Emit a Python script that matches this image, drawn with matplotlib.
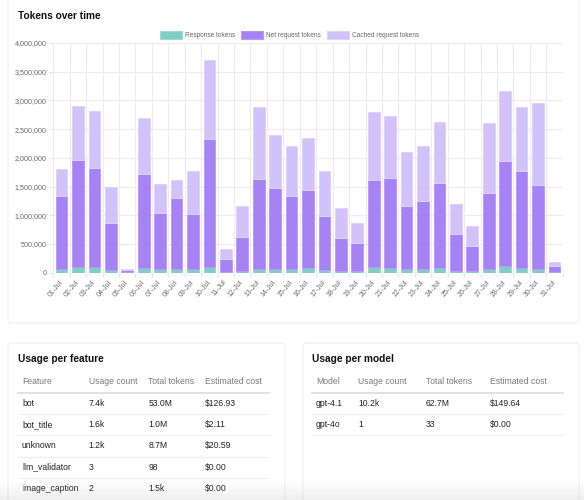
import numpy as np
import matplotlib
matplotlib.use("Agg")
import matplotlib.pyplot as plt
from matplotlib.patches import Rectangle, FancyBboxPatch
from matplotlib.lines import Line2D
from matplotlib.ticker import MultipleLocator, FuncFormatter

plt.rcParams['font.family'] = ['Liberation Sans', 'DejaVu Sans']

# chart data (thousands of tokens per day)
days = ["%02d-Jul" % d for d in range(1, 32)]
response_k = [65, 94, 95, 45, 10, 80, 60, 65, 65, 100, 12, 30, 70, 70, 70, 80,
              50, 30, 30, 95, 85, 65, 65, 85, 30, 30, 70, 120, 90, 70, 5]
net_k = [1275, 1876, 1735, 825, 30, 1640, 980, 1235, 965, 2230, 228, 590, 1560, 1400, 1270, 1360,
         930, 580, 490, 1525, 1565, 1095, 1185, 1485, 650, 440, 1320, 1830, 1680, 1460, 115]
cached_k = [470, 940, 990, 630, 25, 980, 510, 320, 740, 1380, 180, 550, 1260, 930, 860, 900,
            790, 520, 350, 1180, 1080, 940, 960, 1060, 510, 350, 1220, 1220, 1120, 1430, 70]

# tables
feat_header = ["Feature", "Usage count", "Total tokens", "Estimated cost"]
feat_rows = [["bot", "7.4k", "53.0M", "$126.93"],
             ["bot_title", "1.6k", "1.0M", "$2.11"],
             ["unknown", "1.2k", "8.7M", "$20.59"],
             ["llm_validator", "3", "98", "$0.00"],
             ["image_caption", "2", "1.5k", "$0.00"]]
model_header = ["Model", "Usage count", "Total tokens", "Estimated cost"]
model_rows = [["gpt-4.1", "10.2k", "62.7M", "$149.64"],
              ["gpt-4o", "1", "33", "$0.00"]]

W, H = 584, 500
fig = plt.figure(figsize=(W / 100, H / 100), dpi=100)
fig.patch.set_facecolor("white")

def fx(x):
    return x / W

def fy(y):
    return 1 - y / H

def card(x0, y0, x1, y1):
    fig.patches.append(FancyBboxPatch((fx(x0), fy(y1)), fx(x1) - fx(x0), fy(y0) - fy(y1),
                                      boxstyle="round,pad=0,rounding_size=0.006",
                                      transform=fig.transFigure, facecolor="white",
                                      edgecolor="#f0f0f0", linewidth=0.8, zorder=-2))

card(8, -10, 579, 323)
card(8, 343, 285, 520)
card(303, 343, 579, 520)

# title + legend
fig.text(fx(17.5), fy(16), "Tokens over time", fontsize=7.3, fontweight="bold",
         color="#111111", va="center", ha="left")

c_resp, c_net, c_cache = "#7fcdc4", "#a583f5", "#d1c3fa"
e_resp, e_net, e_cache = "#9fdad3", "#b79cf7", "#ddd2fb"
legend_items = [(160, 185, c_resp, e_resp, "Response tokens"),
                (241, 266, c_net, e_net, "Net request tokens"),
                (327, 352, c_cache, e_cache, "Cached request tokens")]
for bx, tx, fc, ec, lab in legend_items:
    fig.patches.append(Rectangle((fx(bx), fy(38.5)), fx(22), 7 / H, transform=fig.transFigure,
                                 facecolor=fc, edgecolor=ec, linewidth=0.8))
    fig.text(fx(tx), fy(35), lab, fontsize=4.7, color="#666666", va="center", ha="left")

# bar chart
ax = fig.add_axes([fx(53.3), fy(272.7), fx(509.4), 229.7 / H], zorder=1)
x = np.arange(len(days))
resp = np.array(response_k) * 1000
net = np.array(net_k) * 1000
cached = np.array(cached_k) * 1000
bw = 0.71
ax.bar(x, resp, bw, color=c_resp, edgecolor=e_resp, linewidth=0.7, zorder=3)
ax.bar(x, net, bw, bottom=resp, color=c_net, edgecolor=e_net, linewidth=0.7, zorder=3)
ax.bar(x, cached, bw, bottom=resp + net, color=c_cache, edgecolor=e_cache, linewidth=0.7, zorder=3)

ax.set_xlim(-0.5, len(days) - 0.5)
ax.set_ylim(0, 4000000)
ax.yaxis.set_major_locator(MultipleLocator(500000))
ax.yaxis.set_major_formatter(FuncFormatter(lambda v, p: "{:,.0f}".format(v)))
ax.set_xticks(x)
ax.set_xticklabels(days, rotation=50, ha="right", va="center", rotation_mode="anchor")
ax.set_xticks(np.arange(-0.5, len(days)), minor=True)
ax.tick_params(axis="x", which="major", length=0, pad=6, labelsize=5, labelcolor="#666666")
ax.tick_params(axis="x", which="minor", length=3, color="#e6e6e6", width=0.8)
ax.tick_params(axis="y", length=3, color="#e6e6e6", width=0.8, pad=2, labelsize=5.1, labelcolor="#666666")
ax.grid(which="minor", axis="x", color="#ececec", linewidth=0.8, zorder=0)
ax.grid(which="major", axis="y", color="#ececec", linewidth=0.8, zorder=0)
for s in ax.spines.values():
    s.set_visible(False)
ax.set_facecolor("none")

# tables
def table(x0, x1, title, colx, header, rows):
    fig.text(fx(x0), fy(358.5), title, fontsize=7.3, fontweight="bold", color="#111111",
             va="center", ha="left")
    for cx, h in zip(colx, header):
        fig.text(fx(cx), fy(381.5), h, fontsize=6.2, color="#7a7a7a", va="center", ha="left")
    fig.add_artist(Line2D([fx(x0), fx(x1)], [fy(392.5), fy(392.5)], color="#e2e2e2", linewidth=1.4))
    for i, row in enumerate(rows):
        yc = 403.5 + 21.2 * i
        for cx, v in zip(colx, row):
            fig.text(fx(cx), fy(yc), v, fontsize=6.2, color="#222222", va="center", ha="left")
        if i < len(rows) - 1 or len(rows) < 5:
            yl = yc + 10.6
            fig.add_artist(Line2D([fx(x0), fx(x1)], [fy(yl), fy(yl)], color="#eeeeee", linewidth=0.8))

table(17.5, 268.5, "Usage per feature", [22, 88.7, 148.3, 205], feat_header, feat_rows)
table(312.3, 562.7, "Usage per model", [316, 358.3, 425.7, 490], model_header, model_rows)

# screenshot fade at the bottom
gax = fig.add_axes([0, 0, 1, 20 / H], zorder=10)
grad = np.zeros((20, 2, 4))
grad[..., :3] = 0.55
grad[..., 3] = np.linspace(0, 0.14, 20)[:, None]
gax.imshow(grad, aspect="auto", extent=[0, 1, 0, 1], origin="upper")
gax.axis("off")

fig.savefig("out.png", dpi=100)
